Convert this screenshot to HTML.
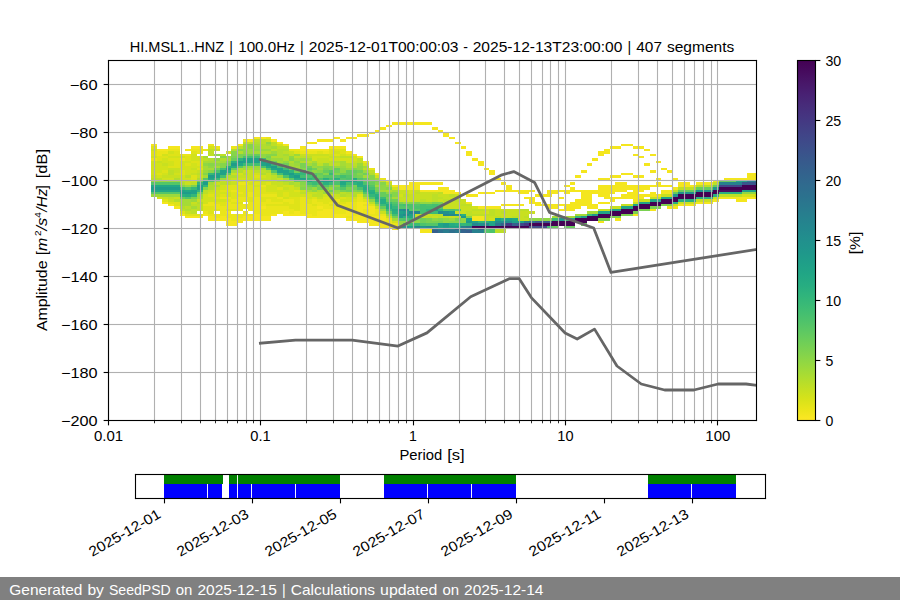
<!DOCTYPE html>
<html lang="en"><head><meta charset="utf-8"><title>HI.MSL1..HNZ PPSD</title>
<style>
html,body{margin:0;padding:0;background:#ffffff;}
body{width:900px;height:600px;overflow:hidden;}
svg{display:block;}
text{font-family:"Liberation Sans",sans-serif;fill:#000000;}
.it{font-style:italic;}
</style></head>
<body>
<svg width="900" height="600" viewBox="0 0 900 600">
<defs>
<clipPath id="axclip"><rect x="108" y="60" width="648.5" height="360.5"/></clipPath>
<linearGradient id="vir" x1="0" y1="0" x2="0" y2="1"><stop offset="0%" stop-color="#440154"/><stop offset="3.12%" stop-color="#460b5e"/><stop offset="6.25%" stop-color="#481769"/><stop offset="9.38%" stop-color="#482173"/><stop offset="12.5%" stop-color="#472c7a"/><stop offset="15.62%" stop-color="#453581"/><stop offset="18.75%" stop-color="#423f85"/><stop offset="21.88%" stop-color="#3f4889"/><stop offset="25%" stop-color="#3b518b"/><stop offset="28.12%" stop-color="#375a8c"/><stop offset="31.25%" stop-color="#33628d"/><stop offset="34.38%" stop-color="#306a8e"/><stop offset="37.5%" stop-color="#2c718e"/><stop offset="40.62%" stop-color="#29798e"/><stop offset="43.75%" stop-color="#26818e"/><stop offset="46.88%" stop-color="#23888e"/><stop offset="50%" stop-color="#21908d"/><stop offset="53.12%" stop-color="#1f978b"/><stop offset="56.25%" stop-color="#1f9f88"/><stop offset="59.38%" stop-color="#21a685"/><stop offset="62.5%" stop-color="#27ad81"/><stop offset="65.62%" stop-color="#31b57b"/><stop offset="68.75%" stop-color="#3dbc74"/><stop offset="71.88%" stop-color="#4cc26c"/><stop offset="75%" stop-color="#5cc863"/><stop offset="78.12%" stop-color="#6ece58"/><stop offset="81.25%" stop-color="#81d34d"/><stop offset="84.38%" stop-color="#95d840"/><stop offset="87.5%" stop-color="#aadc32"/><stop offset="90.62%" stop-color="#c0df25"/><stop offset="93.75%" stop-color="#d5e21a"/><stop offset="96.88%" stop-color="#eae51a"/><stop offset="100%" stop-color="#fde725"/></linearGradient>
</defs>
<rect x="0" y="0" width="900" height="600" fill="#ffffff"/>
<g id="ppsd-histogram" clip-path="url(#axclip)" shape-rendering="crispEdges">
<path fill="#f4e61e" d="M151 144h6v2h-6zM157 149h5v2h-5zM162 149h6v2h-6zM162 202h6v2h-6zM168 146h6v3h-6zM168 204h6v2h-6zM174 146h6v3h-6zM174 206h6v3h-6zM180 214h5v2h-5zM185 149h6v2h-6zM185 216h6v2h-6zM191 146h6v3h-6zM191 216h6v2h-6zM197 146h6v3h-6zM197 216h6v2h-6zM203 214h5v2h-5zM208 216h6v5h-6zM214 218h6v3h-6zM220 216h6v5h-6zM226 211h5v3h-5zM226 218h5v8h-5zM231 221h6v5h-6zM237 144h6v2h-6zM237 218h6v5h-6zM243 216h5v5h-5zM248 139h6v3h-6zM248 216h6v5h-6zM254 137h6v2h-6zM254 214h6v7h-6zM260 137h6v2h-6zM260 206h6v3h-6zM260 216h6v5h-6zM266 216h5v5h-5zM271 139h6v3h-6zM271 214h6v2h-6zM277 142h6v2h-6zM283 144h6v2h-6zM283 211h6v5h-6zM289 214h5v2h-5zM294 211h6v5h-6zM300 146h6v5h-6zM300 214h6v2h-6zM306 142h6v2h-6zM306 149h6v2h-6zM306 214h6v4h-6zM312 142h5v2h-5zM312 149h5v2h-5zM312 216h5v2h-5zM317 139h6v3h-6zM317 149h6v2h-6zM317 206h6v3h-6zM317 211h6v7h-6zM323 139h6v3h-6zM323 149h6v2h-6zM323 209h6v9h-6zM329 139h5v3h-5zM329 146h5v3h-5zM329 209h5v9h-5zM334 137h6v2h-6zM334 146h6v3h-6zM334 214h6v4h-6zM340 139h6v3h-6zM340 146h6v3h-6zM340 214h6v4h-6zM346 137h6v2h-6zM346 151h6v3h-6zM346 211h6v5h-6zM346 218h6v3h-6zM352 137h5v2h-5zM352 154h5v2h-5zM352 216h5v5h-5zM357 134h6v3h-6zM357 156h6v2h-6zM357 202h6v21h-6zM363 134h6v3h-6zM363 202h6v2h-6zM363 206h6v3h-6zM363 216h6v7h-6zM369 132h6v2h-6zM369 206h6v8h-6zM369 216h6v10h-6zM375 130h5v2h-5zM375 173h5v2h-5zM375 216h5v2h-5zM375 221h5v5h-5zM380 127h6v3h-6zM380 216h6v5h-6zM380 223h6v5h-6zM386 125h6v2h-6zM386 180h6v2h-6zM386 223h6v5h-6zM392 122h6v3h-6zM392 185h6v2h-6zM392 226h6v4h-6zM398 122h5v3h-5zM398 185h5v5h-5zM403 122h6v3h-6zM403 185h6v5h-6zM409 122h6v3h-6zM409 182h6v8h-6zM415 122h5v3h-5zM415 182h5v8h-5zM420 122h6v3h-6zM420 182h6v3h-6zM420 190h6v2h-6zM420 228h6v5h-6zM426 122h6v3h-6zM426 182h6v3h-6zM426 190h6v2h-6zM426 228h6v5h-6zM432 127h6v3h-6zM432 182h6v3h-6zM432 190h6v2h-6zM438 130h5v2h-5zM438 182h5v3h-5zM438 187h5v5h-5zM443 132h6v5h-6zM443 187h6v7h-6zM449 137h6v2h-6zM449 190h6v4h-6zM455 142h6v2h-6zM455 192h6v2h-6zM461 146h5v3h-5zM466 151h6v5h-6zM466 194h6v3h-6zM466 202h6v2h-6zM472 158h6v3h-6zM472 194h6v3h-6zM472 216h6v5h-6zM478 161h6v5h-6zM478 192h6v2h-6zM478 206h6v3h-6zM478 216h6v5h-6zM484 168h5v2h-5zM484 192h5v2h-5zM484 206h5v3h-5zM489 170h6v5h-6zM489 192h6v2h-6zM489 206h6v3h-6zM495 178h6v2h-6zM495 190h6v2h-6zM495 206h6v3h-6zM501 182h5v3h-5zM501 190h5v2h-5zM501 204h5v2h-5zM506 185h6v7h-6zM506 204h6v2h-6zM512 190h6v2h-6zM512 204h6v2h-6zM518 190h6v4h-6zM518 204h6v2h-6zM524 190h5v4h-5zM524 197h5v2h-5zM529 190h6v2h-6zM529 197h6v7h-6zM535 194h6v3h-6zM535 202h6v4h-6zM541 194h6v3h-6zM541 204h6v2h-6zM547 190h5v7h-5zM547 204h5v5h-5zM552 190h6v4h-6zM552 204h6v5h-6zM558 190h6v2h-6zM558 197h6v2h-6zM558 204h6v2h-6zM558 209h6v2h-6zM564 185h6v2h-6zM564 190h6v4h-6zM564 204h6v7h-6zM570 182h5v3h-5zM570 187h5v5h-5zM570 202h5v9h-5zM575 175h6v3h-6zM575 190h6v2h-6zM575 199h6v10h-6zM581 170h6v3h-6zM581 190h6v16h-6zM587 163h5v3h-5zM587 190h5v19h-5zM592 158h6v3h-6zM592 190h6v4h-6zM592 204h6v5h-6zM598 151h6v5h-6zM598 178h6v2h-6zM598 185h6v12h-6zM598 202h6v2h-6zM598 221h6v2h-6zM604 149h6v5h-6zM604 178h6v2h-6zM604 185h6v14h-6zM604 202h6v2h-6zM610 146h5v3h-5zM610 175h5v3h-5zM610 185h5v9h-5zM610 197h5v5h-5zM615 146h6v3h-6zM615 175h6v3h-6zM615 182h6v10h-6zM615 197h6v2h-6zM615 218h6v3h-6zM621 144h6v2h-6zM621 173h6v2h-6zM621 182h6v10h-6zM621 194h6v5h-6zM627 144h6v2h-6zM627 173h6v2h-6zM627 185h6v5h-6zM627 192h6v7h-6zM633 146h5v3h-5zM633 154h5v2h-5zM633 175h5v3h-5zM633 185h5v17h-5zM633 214h5v2h-5zM638 146h6v3h-6zM638 156h6v2h-6zM638 175h6v3h-6zM638 185h6v7h-6zM638 194h6v5h-6zM644 149h6v2h-6zM644 163h6v3h-6zM644 185h6v5h-6zM644 194h6v3h-6zM650 154h6v2h-6zM650 170h6v3h-6zM650 185h6v2h-6zM650 192h6v5h-6zM650 209h6v2h-6zM656 161h5v2h-5zM656 178h5v2h-5zM656 182h5v5h-5zM656 194h5v3h-5zM661 168h6v2h-6zM661 185h6v2h-6zM661 190h6v4h-6zM667 170h6v3h-6zM667 185h6v2h-6zM667 190h6v4h-6zM667 206h6v3h-6zM673 178h5v2h-5zM673 187h5v3h-5zM673 206h5v3h-5zM678 182h6v5h-6zM678 204h6v2h-6zM684 182h6v5h-6zM684 204h6v2h-6zM690 185h6v2h-6zM690 204h6v2h-6zM696 182h5v3h-5zM696 202h5v2h-5zM701 182h6v3h-6zM701 202h6v2h-6zM707 182h6v3h-6zM707 202h6v2h-6zM713 180h6v2h-6zM713 199h6v3h-6zM719 197h5v2h-5zM724 178h6v2h-6zM724 197h6v2h-6zM730 178h6v2h-6zM730 197h6v2h-6zM736 178h6v2h-6zM736 197h6v5h-6zM742 178h5v2h-5zM742 197h5v5h-5zM747 173h6v7h-6zM747 197h6v2h-6zM753 173h4v7h-4zM753 197h4v2h-4z"/>
<path fill="#eae51a" d="M151 158h6v3h-6zM157 151h5v5h-5zM162 151h6v3h-6zM168 149h6v2h-6zM174 149h6v2h-6zM180 154h5v2h-5zM180 158h5v3h-5zM185 154h6v2h-6zM191 149h6v2h-6zM197 149h6v5h-6zM203 149h5v2h-5zM203 204h5v2h-5zM203 211h5v3h-5zM208 144h6v2h-6zM208 202h6v4h-6zM208 214h6v2h-6zM214 146h6v3h-6zM214 204h6v5h-6zM214 214h6v4h-6zM220 197h6v2h-6zM220 206h6v10h-6zM226 197h5v2h-5zM226 202h5v7h-5zM226 214h5v4h-5zM231 146h6v3h-6zM231 190h6v2h-6zM231 199h6v3h-6zM231 204h6v5h-6zM231 214h6v7h-6zM237 182h6v3h-6zM237 192h6v2h-6zM237 197h6v5h-6zM237 204h6v7h-6zM237 214h6v4h-6zM243 139h5v3h-5zM243 182h5v3h-5zM243 197h5v5h-5zM243 204h5v5h-5zM243 211h5v5h-5zM248 192h6v5h-6zM248 202h6v9h-6zM248 214h6v2h-6zM254 197h6v17h-6zM260 185h6v2h-6zM260 194h6v3h-6zM260 202h6v4h-6zM260 209h6v7h-6zM266 137h5v2h-5zM266 194h5v3h-5zM266 199h5v5h-5zM266 206h5v10h-5zM271 194h6v3h-6zM271 202h6v2h-6zM271 206h6v8h-6zM277 197h6v2h-6zM277 202h6v2h-6zM277 206h6v8h-6zM283 199h6v3h-6zM283 206h6v5h-6zM289 149h5v2h-5zM289 199h5v5h-5zM289 209h5v5h-5zM294 149h6v2h-6zM300 151h6v3h-6zM300 197h6v17h-6zM306 151h6v3h-6zM306 204h6v10h-6zM312 151h5v3h-5zM312 199h5v5h-5zM312 206h5v10h-5zM317 202h6v4h-6zM317 209h6v2h-6zM323 151h6v3h-6zM323 204h6v5h-6zM329 202h5v2h-5zM329 206h5v3h-5zM334 199h6v3h-6zM334 206h6v8h-6zM340 204h6v10h-6zM346 202h6v9h-6zM346 216h6v2h-6zM352 202h5v14h-5zM357 197h6v5h-6zM363 161h6v2h-6zM363 204h6v2h-6zM363 209h6v7h-6zM369 168h6v2h-6zM369 214h6v2h-6zM375 209h5v7h-5zM375 218h5v3h-5zM380 178h6v2h-6zM380 214h6v2h-6zM380 221h6v2h-6zM386 218h6v5h-6zM392 223h6v3h-6z"/>
<path fill="#dfe318" d="M151 146h6v3h-6zM151 151h6v5h-6zM157 156h5v5h-5zM157 173h5v2h-5zM162 156h6v2h-6zM162 170h6v3h-6zM162 199h6v3h-6zM168 154h6v2h-6zM168 158h6v3h-6zM168 166h6v2h-6zM168 202h6v2h-6zM174 151h6v5h-6zM174 158h6v10h-6zM174 202h6v4h-6zM180 170h5v5h-5zM180 211h5v3h-5zM185 156h6v5h-6zM185 163h6v3h-6zM185 214h6v2h-6zM191 151h6v3h-6zM191 161h6v2h-6zM191 175h6v5h-6zM191 214h6v2h-6zM197 161h6v5h-6zM197 168h6v2h-6zM197 214h6v2h-6zM203 206h5v5h-5zM208 194h6v3h-6zM208 206h6v8h-6zM214 197h6v2h-6zM214 202h6v2h-6zM214 209h6v2h-6zM220 190h6v2h-6zM220 194h6v3h-6zM220 202h6v4h-6zM226 185h5v7h-5zM226 199h5v3h-5zM226 209h5v2h-5zM231 185h6v5h-6zM231 192h6v7h-6zM231 202h6v2h-6zM231 209h6v2h-6zM237 185h6v7h-6zM237 194h6v3h-6zM237 202h6v2h-6zM243 185h5v12h-5zM248 180h6v2h-6zM248 185h6v7h-6zM248 197h6v5h-6zM254 175h6v3h-6zM254 182h6v3h-6zM254 187h6v10h-6zM260 187h6v7h-6zM260 197h6v5h-6zM266 182h5v3h-5zM266 192h5v2h-5zM266 197h5v2h-5zM266 204h5v2h-5zM271 192h6v2h-6zM271 197h6v5h-6zM271 204h6v2h-6zM277 187h6v3h-6zM277 199h6v3h-6zM277 204h6v2h-6zM283 192h6v5h-6zM283 202h6v4h-6zM289 197h5v2h-5zM289 204h5v5h-5zM294 151h6v3h-6zM294 190h6v2h-6zM294 197h6v14h-6zM306 199h6v5h-6zM312 197h5v2h-5zM312 204h5v2h-5zM317 151h6v3h-6zM317 199h6v3h-6zM323 197h6v7h-6zM329 149h5v5h-5zM329 199h5v3h-5zM329 204h5v2h-5zM334 149h6v2h-6zM334 154h6v2h-6zM334 202h6v4h-6zM340 149h6v5h-6zM340 197h6v2h-6zM340 202h6v2h-6zM346 154h6v2h-6zM352 199h5v3h-5zM357 194h6v3h-6zM363 199h6v3h-6zM369 204h6v2h-6z"/>
<path fill="#d2e21b" d="M151 149h6v2h-6zM151 156h6v2h-6zM151 161h6v14h-6zM157 163h5v10h-5zM157 175h5v3h-5zM157 197h5v2h-5zM162 154h6v2h-6zM162 158h6v5h-6zM162 166h6v4h-6zM162 173h6v2h-6zM162 178h6v2h-6zM168 151h6v3h-6zM168 156h6v2h-6zM168 161h6v5h-6zM168 178h6v2h-6zM174 156h6v2h-6zM174 173h6v2h-6zM180 156h5v2h-5zM180 161h5v9h-5zM180 175h5v5h-5zM185 161h6v2h-6zM185 166h6v9h-6zM185 178h6v2h-6zM191 154h6v7h-6zM191 163h6v5h-6zM191 170h6v3h-6zM191 180h6v2h-6zM197 156h6v5h-6zM197 166h6v2h-6zM203 194h5v10h-5zM208 146h6v3h-6zM208 192h6v2h-6zM208 197h6v5h-6zM214 190h6v7h-6zM214 199h6v3h-6zM220 185h6v5h-6zM220 192h6v2h-6zM220 199h6v3h-6zM226 151h5v3h-5zM226 192h5v5h-5zM231 180h6v2h-6zM237 173h6v2h-6zM237 178h6v2h-6zM243 178h5v4h-5zM248 182h6v3h-6zM254 173h6v2h-6zM254 178h6v4h-6zM254 185h6v2h-6zM260 175h6v3h-6zM260 182h6v3h-6zM266 185h5v7h-5zM271 185h6v7h-6zM277 144h6v2h-6zM277 190h6v7h-6zM283 185h6v2h-6zM283 190h6v2h-6zM283 197h6v2h-6zM289 185h5v12h-5zM294 192h6v5h-6zM300 194h6v3h-6zM306 194h6v5h-6zM312 156h5v5h-5zM317 156h6v2h-6zM323 156h6v2h-6zM323 194h6v3h-6zM329 154h5v2h-5zM329 158h5v3h-5zM329 194h5v5h-5zM334 151h6v3h-6zM334 158h6v3h-6zM334 197h6v2h-6zM340 154h6v2h-6zM340 158h6v3h-6zM340 199h6v3h-6zM346 158h6v5h-6zM346 197h6v5h-6zM352 156h5v5h-5zM352 197h5v2h-5zM363 163h6v3h-6zM375 175h5v3h-5zM392 187h6v3h-6zM392 221h6v2h-6zM398 194h5v3h-5zM409 190h6v4h-6zM472 206h6v3h-6zM484 211h5v3h-5zM489 218h6v3h-6zM742 194h5v3h-5zM747 194h6v3h-6zM753 194h4v3h-4z"/>
<path fill="#c8e020" d="M151 175h6v3h-6zM157 161h5v2h-5zM162 163h6v3h-6zM162 175h6v3h-6zM162 197h6v2h-6zM168 168h6v2h-6zM168 175h6v3h-6zM168 199h6v3h-6zM174 168h6v5h-6zM174 175h6v3h-6zM174 197h6v2h-6zM180 180h5v2h-5zM185 180h6v5h-6zM185 211h6v3h-6zM191 168h6v2h-6zM191 173h6v2h-6zM191 202h6v2h-6zM197 170h6v3h-6zM197 175h6v3h-6zM197 199h6v3h-6zM208 190h6v2h-6zM214 149h6v2h-6zM214 182h6v3h-6zM214 187h6v3h-6zM220 180h6v2h-6zM231 173h6v2h-6zM231 178h6v2h-6zM231 182h6v3h-6zM237 175h6v3h-6zM237 180h6v2h-6zM243 170h5v3h-5zM243 175h5v3h-5zM248 170h6v10h-6zM260 178h6v4h-6zM266 139h5v3h-5zM266 173h5v9h-5zM271 180h6v5h-6zM277 178h6v2h-6zM277 182h6v5h-6zM283 187h6v3h-6zM289 151h5v3h-5zM294 187h6v3h-6zM300 154h6v2h-6zM300 190h6v2h-6zM306 154h6v2h-6zM306 192h6v2h-6zM312 154h5v2h-5zM312 192h5v2h-5zM317 154h6v2h-6zM317 158h6v5h-6zM317 197h6v2h-6zM323 154h6v2h-6zM323 158h6v5h-6zM329 156h5v2h-5zM334 156h6v2h-6zM334 194h6v3h-6zM352 161h5v2h-5zM375 206h5v3h-5zM380 180h6v2h-6zM380 211h6v3h-6zM386 182h6v3h-6zM386 216h6v2h-6zM398 190h5v4h-5zM398 197h5v5h-5zM403 190h6v4h-6zM403 197h6v5h-6zM409 194h6v8h-6zM415 190h5v2h-5zM415 194h5v8h-5zM415 214h5v4h-5zM420 192h6v7h-6zM420 214h6v4h-6zM426 192h6v10h-6zM426 214h6v2h-6zM432 192h6v2h-6zM432 216h6v2h-6zM438 194h5v3h-5zM438 199h5v3h-5zM443 194h6v5h-6zM443 202h6v7h-6zM449 197h6v12h-6zM449 216h6v2h-6zM455 194h6v3h-6zM455 202h6v7h-6zM455 211h6v3h-6zM461 199h5v5h-5zM461 206h5v8h-5zM466 206h6v5h-6zM472 211h6v3h-6zM478 211h6v3h-6zM484 209h5v2h-5zM484 216h5v5h-5zM489 216h6v2h-6zM495 209h6v7h-6zM501 209h5v2h-5zM501 214h5v4h-5zM506 209h6v9h-6zM512 209h6v7h-6zM518 211h6v10h-6zM524 211h5v5h-5zM524 218h5v3h-5zM529 211h6v3h-6zM598 209h6v2h-6zM604 209h6v2h-6zM610 206h5v3h-5zM615 206h6v3h-6zM621 204h6v2h-6zM627 204h6v2h-6zM633 202h5v2h-5zM638 199h6v3h-6zM644 199h6v3h-6zM650 197h6v2h-6zM656 197h5v2h-5zM661 194h6v3h-6zM667 194h6v3h-6zM673 204h5v2h-5zM678 202h6v2h-6zM684 202h6v2h-6zM690 202h6v2h-6zM696 199h5v3h-5zM701 199h6v3h-6zM707 199h6v3h-6zM713 197h6v2h-6z"/>
<path fill="#bddf26" d="M151 178h6v2h-6zM157 178h5v2h-5zM168 170h6v5h-6zM168 197h6v2h-6zM180 209h5v2h-5zM185 175h6v3h-6zM185 206h6v3h-6zM191 182h6v3h-6zM191 204h6v2h-6zM191 209h6v5h-6zM197 173h6v2h-6zM197 204h6v7h-6zM203 158h5v3h-5zM203 190h5v4h-5zM208 149h6v7h-6zM220 154h6v2h-6zM220 182h6v3h-6zM226 178h5v7h-5zM237 146h6v3h-6zM243 142h5v2h-5zM243 173h5v2h-5zM248 142h6v2h-6zM254 139h6v3h-6zM254 170h6v3h-6zM260 139h6v5h-6zM260 170h6v3h-6zM271 142h6v4h-6zM271 149h6v2h-6zM271 175h6v5h-6zM277 146h6v3h-6zM283 146h6v3h-6zM283 151h6v3h-6zM283 182h6v3h-6zM289 154h5v2h-5zM294 156h6v2h-6zM300 156h6v2h-6zM300 192h6v2h-6zM306 156h6v2h-6zM306 161h6v2h-6zM312 194h5v3h-5zM317 163h6v3h-6zM317 192h6v5h-6zM329 161h5v5h-5zM334 163h6v3h-6zM340 156h6v2h-6zM340 192h6v2h-6zM346 156h6v2h-6zM346 194h6v3h-6zM352 163h5v3h-5zM357 158h6v5h-6zM363 168h6v2h-6zM363 197h6v2h-6zM369 170h6v3h-6zM369 202h6v2h-6zM403 194h6v3h-6zM415 192h5v2h-5zM420 199h6v3h-6zM426 216h6v2h-6zM432 194h6v8h-6zM432 214h6v2h-6zM438 192h5v2h-5zM438 197h5v2h-5zM438 214h5v4h-5zM443 199h6v3h-6zM443 216h6v2h-6zM449 194h6v3h-6zM455 197h6v5h-6zM455 216h6v2h-6zM461 204h5v2h-5zM466 204h6v2h-6zM466 211h6v5h-6zM472 209h6v2h-6zM472 214h6v2h-6zM478 209h6v2h-6zM478 214h6v2h-6zM484 214h5v2h-5zM489 209h6v7h-6zM495 216h6v2h-6zM495 228h6v5h-6zM501 211h5v3h-5zM501 228h5v5h-5zM512 216h6v2h-6zM518 209h6v2h-6zM524 209h5v2h-5zM524 216h5v2h-5zM673 190h5v2h-5zM678 187h6v3h-6zM684 187h6v3h-6zM690 187h6v3h-6zM696 185h5v2h-5zM701 185h6v2h-6zM707 185h6v2h-6zM713 182h6v3h-6zM719 194h5v3h-5zM724 194h6v3h-6zM730 194h6v3h-6zM736 194h6v3h-6z"/>
<path fill="#b2dd2d" d="M174 178h6v2h-6zM174 199h6v3h-6zM180 182h5v3h-5zM180 206h5v3h-5zM185 209h6v2h-6zM197 178h6v2h-6zM197 202h6v2h-6zM208 158h6v3h-6zM208 185h6v5h-6zM214 185h6v2h-6zM220 158h6v3h-6zM226 175h5v3h-5zM231 149h6v2h-6zM231 175h6v3h-6zM237 151h6v3h-6zM237 168h6v5h-6zM248 168h6v2h-6zM254 142h6v2h-6zM260 144h6v5h-6zM260 151h6v3h-6zM260 173h6v2h-6zM266 146h5v3h-5zM266 151h5v3h-5zM266 170h5v3h-5zM271 156h6v2h-6zM277 149h6v9h-6zM277 180h6v2h-6zM283 149h6v2h-6zM283 156h6v5h-6zM289 161h5v2h-5zM289 180h5v2h-5zM294 182h6v5h-6zM300 161h6v2h-6zM317 190h6v2h-6zM323 190h6v2h-6zM334 161h6v2h-6zM340 194h6v3h-6zM346 163h6v5h-6zM346 192h6v2h-6zM352 166h5v2h-5zM352 192h5v5h-5zM357 192h6v2h-6zM369 173h6v2h-6zM386 190h6v2h-6z"/>
<path fill="#a5db36" d="M180 199h5v7h-5zM185 199h6v7h-6zM191 206h6v3h-6zM197 197h6v2h-6zM203 156h5v2h-5zM203 161h5v2h-5zM203 166h5v4h-5zM203 175h5v3h-5zM208 161h6v2h-6zM208 168h6v2h-6zM208 182h6v3h-6zM214 161h6v2h-6zM214 166h6v2h-6zM220 161h6v2h-6zM226 158h5v3h-5zM231 170h6v3h-6zM243 168h5v2h-5zM254 144h6v2h-6zM254 151h6v3h-6zM254 168h6v2h-6zM260 168h6v2h-6zM266 144h5v2h-5zM271 146h6v3h-6zM277 161h6v2h-6zM283 154h6v2h-6zM283 178h6v4h-6zM289 163h5v5h-5zM289 182h5v3h-5zM294 158h6v3h-6zM294 166h6v4h-6zM306 158h6v3h-6zM306 163h6v3h-6zM306 190h6v2h-6zM312 161h5v2h-5zM329 192h5v2h-5zM334 192h6v2h-6zM340 161h6v5h-6zM363 166h6v2h-6zM363 175h6v3h-6zM375 185h5v2h-5zM380 190h6v2h-6zM386 185h6v2h-6zM392 190h6v2h-6zM392 197h6v2h-6zM392 218h6v3h-6zM552 216h6v2h-6zM558 216h6v2h-6zM564 216h6v2h-6zM570 216h5v2h-5zM575 214h6v2h-6zM581 214h6v2h-6zM587 211h5v3h-5zM592 211h6v3h-6z"/>
<path fill="#9bd93c" d="M151 180h6v2h-6zM151 194h6v3h-6zM157 180h5v2h-5zM157 194h5v3h-5zM162 180h6v2h-6zM162 194h6v3h-6zM168 180h6v2h-6zM168 194h6v3h-6zM174 180h6v2h-6zM174 194h6v3h-6zM185 185h6v2h-6zM191 199h6v3h-6zM197 194h6v3h-6zM203 170h5v3h-5zM220 178h6v2h-6zM226 156h5v2h-5zM243 144h5v5h-5zM248 149h6v5h-6zM248 166h6v2h-6zM254 146h6v3h-6zM254 166h6v2h-6zM260 149h6v2h-6zM266 149h5v2h-5zM271 151h6v3h-6zM271 158h6v3h-6zM271 173h6v2h-6zM277 158h6v3h-6zM277 175h6v3h-6zM294 154h6v2h-6zM294 163h6v3h-6zM300 158h6v3h-6zM312 166h5v2h-5zM312 187h5v3h-5zM317 168h6v2h-6zM323 163h6v3h-6zM323 192h6v2h-6zM329 187h5v3h-5zM334 166h6v2h-6zM334 190h6v2h-6zM340 166h6v2h-6zM346 168h6v2h-6zM357 163h6v3h-6zM363 170h6v3h-6zM375 178h5v2h-5zM380 209h6v2h-6zM386 214h6v2h-6zM398 223h5v3h-5zM449 218h6v3h-6z"/>
<path fill="#90d743" d="M203 163h5v3h-5zM208 166h6v2h-6zM214 154h6v2h-6zM214 158h6v3h-6zM214 163h6v3h-6zM214 180h6v2h-6zM243 149h5v5h-5zM243 166h5v2h-5zM254 149h6v2h-6zM260 154h6v4h-6zM266 142h5v2h-5zM283 161h6v2h-6zM289 156h5v2h-5zM294 161h6v2h-6zM300 185h6v2h-6zM312 163h5v3h-5zM312 170h5v3h-5zM312 190h5v2h-5zM317 166h6v2h-6zM340 168h6v5h-6zM357 166h6v4h-6zM369 199h6v3h-6zM375 204h5v2h-5zM380 185h6v5h-6zM386 192h6v2h-6zM398 221h5v2h-5zM403 202h6v2h-6zM403 221h6v2h-6zM409 221h6v2h-6zM415 221h5v2h-5zM420 202h6v2h-6zM426 202h6v2h-6zM432 218h6v3h-6zM443 218h6v5h-6zM461 218h5v5h-5zM529 218h6v3h-6zM535 218h6v3h-6zM541 218h6v3h-6zM547 218h5v3h-5zM742 192h5v2h-5zM747 192h6v2h-6zM753 192h4v2h-4z"/>
<path fill="#86d549" d="M180 185h5v2h-5zM203 173h5v2h-5zM203 187h5v3h-5zM208 163h6v3h-6zM208 170h6v3h-6zM220 156h6v2h-6zM220 163h6v5h-6zM231 151h6v5h-6zM237 149h6v2h-6zM248 144h6v5h-6zM266 154h5v2h-5zM266 158h5v3h-5zM271 154h6v2h-6zM289 158h5v3h-5zM300 168h6v2h-6zM300 182h6v3h-6zM300 187h6v3h-6zM306 187h6v3h-6zM317 170h6v3h-6zM323 166h6v2h-6zM323 173h6v2h-6zM329 166h5v4h-5zM334 173h6v2h-6zM334 185h6v2h-6zM352 168h5v2h-5zM352 190h5v2h-5zM357 173h6v2h-6zM363 194h6v3h-6zM369 175h6v5h-6zM375 182h5v3h-5zM380 182h6v3h-6zM386 187h6v3h-6zM392 192h6v5h-6zM409 202h6v2h-6zM415 218h5v3h-5zM438 218h5v3h-5zM449 221h6v2h-6zM455 221h6v2h-6zM466 216h6v2h-6z"/>
<path fill="#7ad151" d="M191 185h6v2h-6zM191 197h6v2h-6zM197 180h6v2h-6zM226 161h5v2h-5zM231 156h6v2h-6zM237 154h6v4h-6zM243 154h5v2h-5zM266 156h5v2h-5zM277 163h6v3h-6zM283 166h6v2h-6zM300 163h6v5h-6zM317 185h6v2h-6zM323 168h6v2h-6zM323 187h6v3h-6zM329 185h5v2h-5zM340 190h6v2h-6zM346 187h6v3h-6zM352 185h5v2h-5zM357 175h6v3h-6zM357 190h6v2h-6zM375 180h5v2h-5zM375 187h5v3h-5zM386 197h6v2h-6zM398 202h5v2h-5zM415 202h5v2h-5zM426 218h6v5h-6zM432 202h6v2h-6zM432 221h6v2h-6zM438 202h5v2h-5zM438 221h5v2h-5zM455 218h6v3h-6zM598 218h6v3h-6zM604 218h6v3h-6zM610 216h5v2h-5zM615 216h6v2h-6zM621 214h6v2h-6zM627 214h6v2h-6zM633 211h5v3h-5zM638 209h6v2h-6zM644 209h6v2h-6zM650 206h6v3h-6zM656 206h5v3h-5zM661 204h6v2h-6zM667 204h6v2h-6z"/>
<path fill="#70cf57" d="M197 192h6v2h-6zM214 168h6v2h-6zM248 154h6v2h-6zM271 161h6v2h-6zM283 163h6v3h-6zM289 168h5v2h-5zM294 170h6v3h-6zM300 180h6v2h-6zM306 166h6v2h-6zM306 170h6v3h-6zM306 185h6v2h-6zM312 168h5v2h-5zM317 175h6v3h-6zM317 187h6v3h-6zM329 190h5v2h-5zM334 170h6v3h-6zM334 187h6v3h-6zM340 173h6v2h-6zM346 190h6v2h-6zM352 173h5v5h-5zM352 187h5v3h-5zM357 170h6v3h-6zM363 173h6v2h-6zM369 180h6v2h-6zM375 190h5v2h-5zM392 199h6v3h-6zM392 216h6v2h-6zM420 218h6v5h-6z"/>
<path fill="#67cc5c" d="M180 197h5v2h-5zM226 163h5v3h-5zM226 173h5v2h-5zM231 158h6v3h-6zM231 168h6v2h-6zM254 154h6v2h-6zM294 180h6v2h-6zM317 173h6v2h-6zM323 170h6v3h-6zM334 168h6v2h-6zM346 170h6v5h-6zM352 170h5v3h-5zM363 178h6v4h-6zM369 182h6v3h-6zM380 192h6v5h-6zM380 206h6v3h-6zM386 194h6v3h-6zM386 199h6v3h-6zM386 211h6v3h-6zM552 226h6v2h-6zM564 226h6v2h-6zM570 226h5v2h-5zM581 223h6v3h-6zM673 192h5v2h-5zM678 190h6v2h-6zM684 190h6v2h-6zM690 190h6v2h-6zM696 187h5v3h-5zM701 187h6v3h-6zM707 187h6v3h-6zM713 185h6v2h-6zM719 180h5v2h-5zM724 180h6v2h-6zM730 180h6v2h-6z"/>
<path fill="#5cc863" d="M237 166h6v2h-6zM289 178h5v2h-5zM306 168h6v2h-6zM312 173h5v2h-5zM312 185h5v2h-5zM323 175h6v3h-6zM329 175h5v3h-5zM346 185h6v2h-6zM375 202h5v2h-5zM415 209h5v2h-5zM455 209h6v2h-6z"/>
<path fill="#54c568" d="M151 182h6v3h-6zM151 192h6v2h-6zM157 182h5v3h-5zM157 192h5v2h-5zM162 182h6v3h-6zM162 192h6v2h-6zM168 182h6v3h-6zM168 192h6v2h-6zM174 182h6v3h-6zM174 192h6v2h-6zM185 197h6v2h-6zM203 178h5v2h-5zM208 180h6v2h-6zM266 168h5v2h-5zM271 170h6v3h-6zM323 185h6v2h-6zM329 170h5v3h-5zM334 175h6v3h-6zM340 178h6v2h-6zM340 187h6v3h-6zM346 175h6v3h-6zM357 178h6v2h-6zM363 192h6v2h-6zM369 185h6v2h-6zM369 197h6v2h-6zM392 202h6v2h-6zM398 206h5v3h-5zM398 218h5v3h-5zM403 206h6v3h-6zM403 223h6v3h-6zM409 209h6v2h-6zM415 204h5v2h-5zM426 223h6v3h-6zM432 223h6v3h-6zM438 204h5v5h-5zM443 209h6v2h-6zM484 228h5v5h-5z"/>
<path fill="#4cc26c" d="M185 187h6v3h-6zM214 170h6v3h-6zM243 156h5v2h-5zM260 166h6v2h-6zM283 175h6v3h-6zM306 175h6v3h-6zM306 182h6v3h-6zM317 178h6v2h-6zM317 182h6v3h-6zM334 182h6v3h-6zM346 178h6v2h-6zM357 187h6v3h-6zM363 182h6v3h-6zM398 204h5v2h-5zM403 218h6v3h-6zM409 204h6v5h-6zM415 206h5v3h-5zM420 223h6v3h-6zM426 204h6v2h-6zM449 209h6v2h-6zM489 230h6v3h-6z"/>
<path fill="#44bf70" d="M220 168h6v2h-6zM220 175h6v3h-6zM248 156h6v2h-6zM248 163h6v3h-6zM254 156h6v2h-6zM254 163h6v3h-6zM277 166h6v2h-6zM277 173h6v2h-6zM300 175h6v3h-6zM329 178h5v2h-5zM334 180h6v2h-6zM340 175h6v3h-6zM346 182h6v3h-6zM369 187h6v3h-6zM375 192h5v2h-5zM392 204h6v2h-6zM392 214h6v2h-6zM403 204h6v2h-6zM420 204h6v10h-6zM426 206h6v3h-6zM432 204h6v5h-6zM489 228h6v2h-6zM547 226h5v2h-5z"/>
<path fill="#3bbb75" d="M180 187h5v3h-5zM214 178h6v2h-6zM243 163h5v3h-5zM260 158h6v3h-6zM283 168h6v2h-6zM312 175h5v5h-5zM312 182h5v3h-5zM329 173h5v2h-5zM329 182h5v3h-5zM380 197h6v2h-6zM380 204h6v2h-6zM386 202h6v2h-6zM386 209h6v2h-6zM409 218h6v3h-6zM409 223h6v3h-6zM415 223h5v3h-5zM426 211h6v3h-6zM432 211h6v3h-6z"/>
<path fill="#35b779" d="M191 187h6v3h-6zM191 194h6v3h-6zM197 182h6v3h-6zM203 185h5v2h-5zM208 173h6v2h-6zM271 163h6v3h-6zM300 170h6v5h-6zM306 173h6v2h-6zM312 180h5v2h-5zM340 185h6v2h-6zM369 194h6v3h-6zM375 199h5v3h-5zM392 206h6v3h-6zM461 223h5v3h-5zM552 218h6v3h-6zM564 218h6v3h-6zM575 216h6v2h-6zM587 214h5v2h-5z"/>
<path fill="#2fb47c" d="M197 190h6v2h-6zM237 158h6v3h-6zM266 161h5v2h-5zM289 170h5v3h-5zM306 178h6v2h-6zM352 182h5v3h-5zM357 180h6v2h-6zM363 190h6v2h-6zM426 209h6v2h-6zM438 209h5v2h-5zM466 223h6v3h-6zM478 221h6v2h-6z"/>
<path fill="#2ab07f" d="M180 194h5v3h-5zM231 161h6v2h-6zM294 173h6v2h-6zM323 178h6v2h-6zM323 182h6v3h-6zM334 178h6v2h-6zM357 185h6v2h-6zM363 185h6v2h-6zM369 190h6v2h-6zM375 194h5v3h-5zM392 211h6v3h-6zM403 216h6v2h-6zM455 223h6v3h-6zM461 214h5v2h-5zM484 221h5v2h-5zM501 218h5v3h-5zM673 202h5v2h-5zM678 199h6v3h-6zM684 199h6v3h-6zM690 199h6v3h-6zM696 197h5v2h-5zM701 197h6v2h-6zM707 197h6v2h-6zM713 194h6v3h-6zM719 192h5v2h-5zM724 192h6v2h-6zM730 192h6v2h-6zM736 192h6v2h-6z"/>
<path fill="#25ac82" d="M185 194h6v3h-6zM226 166h5v2h-5zM226 170h5v3h-5zM231 166h6v2h-6zM294 178h6v2h-6zM352 178h5v2h-5zM357 182h6v3h-6zM363 187h6v3h-6zM369 192h6v2h-6zM375 197h5v2h-5zM380 199h6v5h-6zM386 204h6v5h-6zM392 209h6v2h-6zM449 223h6v3h-6z"/>
<path fill="#22a884" d="M151 185h6v2h-6zM151 190h6v2h-6zM157 185h5v2h-5zM157 190h5v2h-5zM162 185h6v2h-6zM162 190h6v2h-6zM168 185h6v2h-6zM168 190h6v2h-6zM174 185h6v2h-6zM174 190h6v2h-6zM185 190h6v2h-6zM237 163h6v3h-6zM266 166h5v2h-5zM289 175h5v3h-5zM306 180h6v2h-6zM340 182h6v3h-6zM409 216h6v2h-6zM489 221h6v2h-6zM512 218h6v3h-6zM736 180h6v2h-6z"/>
<path fill="#20a486" d="M180 190h5v2h-5zM203 180h5v2h-5zM208 178h6v2h-6zM214 173h6v2h-6zM243 158h5v3h-5zM260 163h6v3h-6zM271 168h6v2h-6zM283 173h6v2h-6zM340 180h6v2h-6zM346 180h6v2h-6zM438 223h5v5h-5zM449 226h6v2h-6zM489 223h6v3h-6zM598 211h6v3h-6zM604 211h6v3h-6zM610 209h5v2h-5zM615 209h6v2h-6zM621 206h6v3h-6zM627 206h6v3h-6zM633 204h5v2h-5zM638 202h6v2h-6zM644 202h6v2h-6zM650 199h6v3h-6zM656 199h5v3h-5zM661 197h6v2h-6zM667 197h6v2h-6z"/>
<path fill="#1fa188" d="M191 190h6v4h-6zM197 185h6v5h-6zM214 175h6v3h-6zM220 170h6v5h-6zM243 161h5v2h-5zM248 158h6v5h-6zM254 158h6v5h-6zM260 161h6v2h-6zM277 168h6v5h-6zM283 170h6v3h-6zM300 178h6v2h-6zM352 180h5v2h-5zM398 211h5v3h-5zM409 214h6v2h-6zM409 226h6v2h-6zM455 226h6v2h-6zM466 218h6v3h-6zM472 221h6v2h-6zM495 218h6v3h-6zM506 218h6v3h-6zM512 221h6v2h-6zM518 221h6v2h-6zM742 180h5v2h-5zM742 190h5v2h-5zM747 190h6v2h-6zM753 190h4v2h-4z"/>
<path fill="#1e9c89" d="M151 187h6v3h-6zM157 187h5v3h-5zM162 187h6v3h-6zM168 187h6v3h-6zM174 187h6v3h-6zM180 192h5v2h-5zM185 192h6v2h-6zM203 182h5v3h-5zM208 175h6v3h-6zM226 168h5v2h-5zM231 163h6v3h-6zM237 161h6v2h-6zM266 163h5v3h-5zM271 166h6v2h-6zM289 173h5v2h-5zM294 175h6v3h-6zM317 180h6v2h-6zM323 180h6v2h-6zM329 180h5v2h-5zM398 216h5v2h-5zM403 211h6v3h-6zM432 209h6v2h-6zM443 223h6v5h-6zM449 211h6v3h-6z"/>
<path fill="#1f988b" d="M398 214h5v2h-5zM461 216h5v2h-5zM466 221h6v2h-6zM558 218h6v3h-6zM570 218h5v3h-5zM581 216h6v2h-6zM592 214h6v2h-6z"/>
<path fill="#1f948c" d="M403 226h6v2h-6zM420 226h6v2h-6zM432 226h6v2h-6zM673 194h5v3h-5zM678 192h6v2h-6zM684 192h6v2h-6zM690 192h6v2h-6zM696 190h5v2h-5zM701 190h6v2h-6zM707 190h6v2h-6zM713 187h6v3h-6z"/>
<path fill="#21908d" d="M398 209h5v2h-5zM443 211h6v3h-6zM455 214h6v2h-6zM478 223h6v3h-6zM501 221h5v2h-5z"/>
<path fill="#228c8d" d="M398 226h5v2h-5zM403 214h6v2h-6zM426 226h6v2h-6zM438 211h5v3h-5zM495 221h6v2h-6zM506 221h6v2h-6z"/>
<path fill="#23888e" d="M403 209h6v2h-6zM409 211h6v3h-6zM449 214h6v2h-6zM472 223h6v3h-6z"/>
<path fill="#25848e" d="M415 211h5v3h-5zM415 226h5v2h-5zM443 214h6v2h-6zM472 228h6v2h-6zM484 223h5v3h-5z"/>
<path fill="#27808e" d="M472 230h6v3h-6zM478 230h6v3h-6zM719 182h5v3h-5zM724 182h6v3h-6zM730 182h6v3h-6zM736 182h6v3h-6z"/>
<path fill="#287c8e" d="M438 228h5v2h-5zM443 230h6v3h-6zM449 228h6v2h-6zM461 226h5v2h-5z"/>
<path fill="#2a788e" d="M455 230h6v3h-6zM466 228h6v2h-6zM495 223h6v3h-6zM524 221h5v2h-5zM747 180h6v2h-6zM753 180h4v2h-4z"/>
<path fill="#2b748e" d="M432 228h6v2h-6zM466 226h6v2h-6z"/>
<path fill="#2d708e" d="M438 230h5v3h-5zM443 228h6v2h-6zM449 230h6v3h-6zM529 221h6v2h-6z"/>
<path fill="#32648e" d="M461 230h5v3h-5zM501 223h5v3h-5z"/>
<path fill="#355f8d" d="M432 230h6v3h-6zM455 228h6v2h-6zM461 228h5v2h-5zM466 230h6v3h-6zM478 228h6v2h-6zM512 223h6v3h-6z"/>
<path fill="#39568c" d="M535 221h6v2h-6zM541 221h6v2h-6zM547 221h5v2h-5zM742 182h5v3h-5zM747 182h6v3h-6zM753 182h4v3h-4z"/>
<path fill="#3d4d8a" d="M529 226h6v2h-6zM535 226h6v2h-6zM541 226h6v2h-6z"/>
<path fill="#3f4889" d="M518 223h6v3h-6z"/>
<path fill="#414487" d="M719 185h5v2h-5zM724 185h6v2h-6zM730 185h6v2h-6zM736 185h6v2h-6z"/>
<path fill="#443983" d="M506 223h6v3h-6zM524 223h5v3h-5z"/>
<path fill="#470d60" d="M719 190h5v2h-5zM724 190h6v2h-6zM730 190h6v2h-6zM736 190h6v2h-6z"/>
<path fill="#440154" d="M472 226h6v2h-6zM478 226h6v2h-6zM484 226h5v2h-5zM489 226h6v2h-6zM495 226h6v2h-6zM501 226h5v2h-5zM506 226h6v2h-6zM512 226h6v2h-6zM518 226h6v2h-6zM524 226h5v2h-5zM529 223h6v3h-6zM535 223h6v3h-6zM541 223h6v3h-6zM547 223h5v3h-5zM552 221h6v5h-6zM558 221h6v5h-6zM564 221h6v5h-6zM570 221h5v5h-5zM575 218h6v5h-6zM581 218h6v5h-6zM587 216h5v5h-5zM592 216h6v5h-6zM598 214h6v4h-6zM604 214h6v4h-6zM610 211h5v5h-5zM615 211h6v5h-6zM621 209h6v5h-6zM627 209h6v5h-6zM633 206h5v5h-5zM638 204h6v5h-6zM644 204h6v5h-6zM650 202h6v4h-6zM656 202h5v4h-5zM661 199h6v5h-6zM667 199h6v5h-6zM673 197h5v5h-5zM678 194h6v5h-6zM684 194h6v5h-6zM690 194h6v5h-6zM696 192h5v5h-5zM701 192h6v5h-6zM707 192h6v5h-6zM713 190h6v4h-6zM719 187h5v3h-5zM724 187h6v3h-6zM730 187h6v3h-6zM736 187h6v3h-6zM742 185h5v5h-5zM747 185h6v5h-6zM753 185h4v5h-4z"/>
</g>
<g id="grid" fill="#b0b0b0">
<rect x="107.94" y="60.5" width="1.11" height="360"/><rect x="153.94" y="60.5" width="1.11" height="360"/><rect x="180.94" y="60.5" width="1.11" height="360"/><rect x="199.94" y="60.5" width="1.11" height="360"/><rect x="214.94" y="60.5" width="1.11" height="360"/><rect x="226.94" y="60.5" width="1.11" height="360"/><rect x="236.94" y="60.5" width="1.11" height="360"/><rect x="245.94" y="60.5" width="1.11" height="360"/><rect x="252.94" y="60.5" width="1.11" height="360"/><rect x="259.94" y="60.5" width="1.11" height="360"/><rect x="305.94" y="60.5" width="1.11" height="360"/><rect x="332.94" y="60.5" width="1.11" height="360"/><rect x="351.94" y="60.5" width="1.11" height="360"/><rect x="366.94" y="60.5" width="1.11" height="360"/><rect x="378.94" y="60.5" width="1.11" height="360"/><rect x="388.94" y="60.5" width="1.11" height="360"/><rect x="397.94" y="60.5" width="1.11" height="360"/><rect x="405.94" y="60.5" width="1.11" height="360"/><rect x="412.94" y="60.5" width="1.11" height="360"/><rect x="458.94" y="60.5" width="1.11" height="360"/><rect x="484.94" y="60.5" width="1.11" height="360"/><rect x="503.94" y="60.5" width="1.11" height="360"/><rect x="518.95" y="60.5" width="1.11" height="360"/><rect x="530.95" y="60.5" width="1.11" height="360"/><rect x="541.95" y="60.5" width="1.11" height="360"/><rect x="549.95" y="60.5" width="1.11" height="360"/><rect x="557.95" y="60.5" width="1.11" height="360"/><rect x="564.95" y="60.5" width="1.11" height="360"/><rect x="610.95" y="60.5" width="1.11" height="360"/><rect x="637.95" y="60.5" width="1.11" height="360"/><rect x="656.95" y="60.5" width="1.11" height="360"/><rect x="671.95" y="60.5" width="1.11" height="360"/><rect x="683.95" y="60.5" width="1.11" height="360"/><rect x="693.95" y="60.5" width="1.11" height="360"/><rect x="702.95" y="60.5" width="1.11" height="360"/><rect x="710.95" y="60.5" width="1.11" height="360"/><rect x="716.95" y="60.5" width="1.11" height="360"/>
<rect x="108.5" y="371.94" width="648" height="1.11"/><rect x="108.5" y="323.94" width="648" height="1.11"/><rect x="108.5" y="275.94" width="648" height="1.11"/><rect x="108.5" y="227.94" width="648" height="1.11"/><rect x="108.5" y="179.94" width="648" height="1.11"/><rect x="108.5" y="131.94" width="648" height="1.11"/><rect x="108.5" y="83.94" width="648" height="1.11"/>
</g>
<g id="noise-models" clip-path="url(#axclip)" fill="none" stroke="#666666" stroke-width="2.78" stroke-linejoin="round" stroke-linecap="square">
<polyline points="260.37,159.6 312.54,173.76 337.34,205.2 397.97,228 501.08,175.2 513.72,171.6 534.53,182.4 549.51,212.4 593.68,228 610.97,272.4 801.27,242.4"/>
<polyline points="260.37,343.2 295.48,340.08 352.1,340.08 397.97,346.08 426.97,332.88 470.67,296.76 509.26,278.64 519.24,278.64 531.3,297.6 565.1,333 577.17,339 594.53,329.11 616.98,366 641.24,384 664.63,390 693.87,390 718.13,384 746.05,384 796.08,390"/>
</g>
<g id="axes-frame" fill="#000000">
<rect x="107.945" y="59.945" width="1.11" height="361.11"/><rect x="755.945" y="59.945" width="1.11" height="361.11"/><rect x="107.945" y="59.945" width="649.11" height="1.11"/><rect x="107.945" y="419.945" width="649.11" height="1.11"/>
<rect x="103.64" y="419.94" width="4.86" height="1.11"/><rect x="103.64" y="371.94" width="4.86" height="1.11"/><rect x="103.64" y="323.94" width="4.86" height="1.11"/><rect x="103.64" y="275.94" width="4.86" height="1.11"/><rect x="103.64" y="227.94" width="4.86" height="1.11"/><rect x="103.64" y="179.94" width="4.86" height="1.11"/><rect x="103.64" y="131.94" width="4.86" height="1.11"/><rect x="103.64" y="83.94" width="4.86" height="1.11"/>
<rect x="107.94" y="420.5" width="1.11" height="4.86"/><rect x="259.94" y="420.5" width="1.11" height="4.86"/><rect x="412.94" y="420.5" width="1.11" height="4.86"/><rect x="564.95" y="420.5" width="1.11" height="4.86"/><rect x="716.95" y="420.5" width="1.11" height="4.86"/>
<rect x="154.09" y="420.5" width="0.83" height="2.78"/><rect x="181.09" y="420.5" width="0.83" height="2.78"/><rect x="200.09" y="420.5" width="0.83" height="2.78"/><rect x="215.09" y="420.5" width="0.83" height="2.78"/><rect x="227.09" y="420.5" width="0.83" height="2.78"/><rect x="237.09" y="420.5" width="0.83" height="2.78"/><rect x="246.09" y="420.5" width="0.83" height="2.78"/><rect x="253.09" y="420.5" width="0.83" height="2.78"/><rect x="306.08" y="420.5" width="0.83" height="2.78"/><rect x="333.08" y="420.5" width="0.83" height="2.78"/><rect x="352.08" y="420.5" width="0.83" height="2.78"/><rect x="367.08" y="420.5" width="0.83" height="2.78"/><rect x="379.08" y="420.5" width="0.83" height="2.78"/><rect x="389.08" y="420.5" width="0.83" height="2.78"/><rect x="398.08" y="420.5" width="0.83" height="2.78"/><rect x="406.08" y="420.5" width="0.83" height="2.78"/><rect x="459.08" y="420.5" width="0.83" height="2.78"/><rect x="485.08" y="420.5" width="0.83" height="2.78"/><rect x="504.08" y="420.5" width="0.83" height="2.78"/><rect x="519.09" y="420.5" width="0.83" height="2.78"/><rect x="531.09" y="420.5" width="0.83" height="2.78"/><rect x="542.09" y="420.5" width="0.83" height="2.78"/><rect x="550.09" y="420.5" width="0.83" height="2.78"/><rect x="558.09" y="420.5" width="0.83" height="2.78"/><rect x="611.09" y="420.5" width="0.83" height="2.78"/><rect x="638.09" y="420.5" width="0.83" height="2.78"/><rect x="657.09" y="420.5" width="0.83" height="2.78"/><rect x="672.09" y="420.5" width="0.83" height="2.78"/><rect x="684.09" y="420.5" width="0.83" height="2.78"/><rect x="694.09" y="420.5" width="0.83" height="2.78"/><rect x="703.09" y="420.5" width="0.83" height="2.78"/><rect x="711.09" y="420.5" width="0.83" height="2.78"/>
</g>
<g id="colorbar">
<rect x="797.5" y="60.5" width="18" height="360" fill="url(#vir)"/>
<rect x="797.5" y="60.5" width="18" height="360" fill="none" stroke="#000000" stroke-width="1.11"/>
<g fill="#000000"><rect x="815.5" y="419.94" width="4.86" height="1.11"/><rect x="815.5" y="359.94" width="4.86" height="1.11"/><rect x="815.5" y="299.94" width="4.86" height="1.11"/><rect x="815.5" y="239.94" width="4.86" height="1.11"/><rect x="815.5" y="179.94" width="4.86" height="1.11"/><rect x="815.5" y="119.94" width="4.86" height="1.11"/><rect x="815.5" y="59.95" width="4.86" height="1.11"/></g>
</g>
<g id="coverage" shape-rendering="crispEdges">
<rect x="164" y="475" width="59" height="9" fill="#008000"/><rect x="229" y="475" width="111" height="9" fill="#008000"/><rect x="384" y="475" width="132" height="9" fill="#008000"/><rect x="648" y="475" width="88" height="9" fill="#008000"/>
<rect x="164" y="484" width="58" height="14" fill="#0000ff"/><rect x="229" y="484" width="111" height="14" fill="#0000ff"/><rect x="384" y="484" width="132" height="14" fill="#0000ff"/><rect x="648" y="484" width="88" height="14" fill="#0000ff"/>
<rect x="207" y="484" width="1" height="14" fill="#f2f2ff"/><rect x="237" y="484" width="1" height="14" fill="#f2f2ff"/><rect x="251" y="484" width="1" height="14" fill="#f2f2ff"/><rect x="295" y="484" width="1" height="14" fill="#f2f2ff"/><rect x="427" y="484" width="1" height="14" fill="#f2f2ff"/><rect x="471" y="484" width="1" height="14" fill="#f2f2ff"/><rect x="691" y="484" width="1" height="14" fill="#f2f2ff"/><rect x="237" y="475" width="1" height="9" fill="#eaf5ea"/>
</g>
<g id="coverage-frame" fill="#000000"><rect x="134.945" y="473.945" width="631.11" height="1.11"/><rect x="134.945" y="497.945" width="631.11" height="1.11"/><rect x="134.945" y="473.945" width="1.11" height="25.11"/><rect x="764.945" y="473.945" width="1.11" height="25.11"/><rect x="163.94" y="498.5" width="1.11" height="4.86"/><rect x="251.94" y="498.5" width="1.11" height="4.86"/><rect x="339.94" y="498.5" width="1.11" height="4.86"/><rect x="427.94" y="498.5" width="1.11" height="4.86"/><rect x="515.95" y="498.5" width="1.11" height="4.86"/><rect x="603.95" y="498.5" width="1.11" height="4.86"/><rect x="691.95" y="498.5" width="1.11" height="4.86"/></g>
<rect id="footer-bar" x="0" y="577" width="900" height="23" fill="#808080"/>
<g id="labels">
<text x="129.4" y="51.7" font-size="14.1"><tspan x="129.7" textLength="94.52" lengthAdjust="spacingAndGlyphs">HI.MSL1..HNZ</tspan> <tspan x="233.17" text-anchor="middle">|</tspan> <tspan x="238.2" textLength="56.65" lengthAdjust="spacingAndGlyphs">100.0Hz</tspan> <tspan x="303.79" text-anchor="middle">|</tspan> <tspan x="308.82" textLength="149.65" lengthAdjust="spacingAndGlyphs">2025-12-01T00:00:03</tspan> <tspan x="467.55" text-anchor="middle">-</tspan> <tspan x="472.7" textLength="149.65" lengthAdjust="spacingAndGlyphs">2025-12-13T23:00:00</tspan> <tspan x="631.29" text-anchor="middle">|</tspan> <tspan x="636.32" textLength="25.65" lengthAdjust="spacingAndGlyphs">407</tspan> <tspan x="666.95" textLength="67.28" lengthAdjust="spacingAndGlyphs">segments</tspan></text>
<text x="97.6" y="426.05" font-size="14.1" text-anchor="end" textLength="36.6" lengthAdjust="spacingAndGlyphs">−200</text>
<text x="97.6" y="378.05" font-size="14.1" text-anchor="end" textLength="36.6" lengthAdjust="spacingAndGlyphs">−180</text>
<text x="97.6" y="330.05" font-size="14.1" text-anchor="end" textLength="36.6" lengthAdjust="spacingAndGlyphs">−160</text>
<text x="97.6" y="282.05" font-size="14.1" text-anchor="end" textLength="36.6" lengthAdjust="spacingAndGlyphs">−140</text>
<text x="97.6" y="234.05" font-size="14.1" text-anchor="end" textLength="36.6" lengthAdjust="spacingAndGlyphs">−120</text>
<text x="97.6" y="186.05" font-size="14.1" text-anchor="end" textLength="36.6" lengthAdjust="spacingAndGlyphs">−100</text>
<text x="97.6" y="138.05" font-size="14.1" text-anchor="end" textLength="27.9" lengthAdjust="spacingAndGlyphs">−80</text>
<text x="97.6" y="90.05" font-size="14.1" text-anchor="end" textLength="27.9" lengthAdjust="spacingAndGlyphs">−60</text>
<text x="108.5" y="441.2" font-size="14.1" text-anchor="middle" textLength="29.2" lengthAdjust="spacingAndGlyphs">0.01</text>
<text x="260.5" y="441.2" font-size="14.1" text-anchor="middle" textLength="20.4" lengthAdjust="spacingAndGlyphs">0.1</text>
<text x="413" y="441.2" font-size="14.1" text-anchor="middle">1</text>
<text x="565.4" y="441.2" font-size="14.1" text-anchor="middle" textLength="16.2" lengthAdjust="spacingAndGlyphs">10</text>
<text x="717.8" y="441.2" font-size="14.1" text-anchor="middle" textLength="25" lengthAdjust="spacingAndGlyphs">100</text>
<text x="399.1" y="460" font-size="14.1"><tspan x="399.4" textLength="42.78" lengthAdjust="spacingAndGlyphs">Period</tspan> <tspan x="447.15" textLength="17.52" lengthAdjust="spacingAndGlyphs">[s]</tspan></text>
<text x="825.4" y="426.05" font-size="14.1">0</text>
<text x="825.4" y="366.05" font-size="14.1">5</text>
<text x="825.4" y="306.05" font-size="14.1" textLength="15.8" lengthAdjust="spacingAndGlyphs">10</text>
<text x="825.4" y="246.05" font-size="14.1" textLength="15.8" lengthAdjust="spacingAndGlyphs">15</text>
<text x="825.4" y="186.05" font-size="14.1" textLength="15.8" lengthAdjust="spacingAndGlyphs">20</text>
<text x="825.4" y="126.05" font-size="14.1" textLength="15.8" lengthAdjust="spacingAndGlyphs">25</text>
<text x="825.4" y="66.05" font-size="14.1" textLength="15.8" lengthAdjust="spacingAndGlyphs">30</text>
<text x="0" y="0" font-size="14.1" textLength="22.6" lengthAdjust="spacingAndGlyphs" transform="translate(859.6,254.3) rotate(-90)">[%]</text>
<text x="0" y="0" font-size="14.1" transform="translate(46.9,331.4) rotate(-90)"><tspan x="0.3" y="0" textLength="70.6" lengthAdjust="spacingAndGlyphs">Amplitude</tspan> <tspan x="78.4" y="0" text-anchor="middle">[</tspan><tspan x="80.3" y="0" class="it" textLength="13.2" lengthAdjust="spacingAndGlyphs">m</tspan><tspan x="95.4" y="-5.8" font-size="9.9">2</tspan><tspan x="100.9" y="0" class="it" textLength="12.8" lengthAdjust="spacingAndGlyphs">/s</tspan><tspan x="113.6" y="-5.8" font-size="9.9">4</tspan><tspan x="119.6" y="0" class="it" textLength="23.2" lengthAdjust="spacingAndGlyphs">/Hz</tspan><tspan x="146.2" y="0" text-anchor="middle">]</tspan> <tspan x="153.2" y="0" textLength="29.2" lengthAdjust="spacingAndGlyphs">[dB]</tspan></text>
<text x="0" y="0" font-size="14.1" text-anchor="end" textLength="80.3" lengthAdjust="spacingAndGlyphs" transform="translate(161.80,516.9) rotate(-30)">2025-12-01</text>
<text x="0" y="0" font-size="14.1" text-anchor="end" textLength="80.3" lengthAdjust="spacingAndGlyphs" transform="translate(249.80,516.9) rotate(-30)">2025-12-03</text>
<text x="0" y="0" font-size="14.1" text-anchor="end" textLength="80.3" lengthAdjust="spacingAndGlyphs" transform="translate(337.80,516.9) rotate(-30)">2025-12-05</text>
<text x="0" y="0" font-size="14.1" text-anchor="end" textLength="80.3" lengthAdjust="spacingAndGlyphs" transform="translate(425.80,516.9) rotate(-30)">2025-12-07</text>
<text x="0" y="0" font-size="14.1" text-anchor="end" textLength="80.3" lengthAdjust="spacingAndGlyphs" transform="translate(513.80,516.9) rotate(-30)">2025-12-09</text>
<text x="0" y="0" font-size="14.1" text-anchor="end" textLength="80.3" lengthAdjust="spacingAndGlyphs" transform="translate(601.80,516.9) rotate(-30)">2025-12-11</text>
<text x="0" y="0" font-size="14.1" text-anchor="end" textLength="80.3" lengthAdjust="spacingAndGlyphs" transform="translate(689.80,516.9) rotate(-30)">2025-12-13</text>
<text x="9" y="595" font-size="14.1" style="fill:#ffffff"><tspan x="9.3" textLength="73.15" lengthAdjust="spacingAndGlyphs">Generated</tspan> <tspan x="87.42" textLength="16.52" lengthAdjust="spacingAndGlyphs">by</tspan> <tspan x="108.92" textLength="61.9" lengthAdjust="spacingAndGlyphs">SeedPSD</tspan> <tspan x="175.8" textLength="16.65" lengthAdjust="spacingAndGlyphs">on</tspan> <tspan x="197.42" textLength="79.4" lengthAdjust="spacingAndGlyphs">2025-12-15</tspan> <tspan x="285.77" text-anchor="middle">|</tspan> <tspan x="290.8" textLength="84.28" lengthAdjust="spacingAndGlyphs">Calculations</tspan> <tspan x="380.05" textLength="57.4" lengthAdjust="spacingAndGlyphs">updated</tspan> <tspan x="442.42" textLength="16.65" lengthAdjust="spacingAndGlyphs">on</tspan> <tspan x="464.05" textLength="79.4" lengthAdjust="spacingAndGlyphs">2025-12-14</tspan></text>
</g>
</svg>
</body></html>
